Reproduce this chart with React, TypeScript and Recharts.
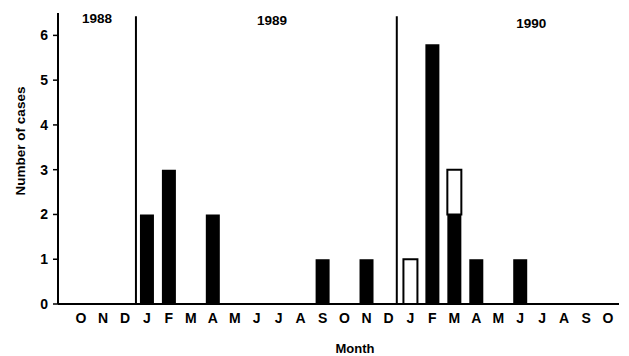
import {
  Bar,
  BarChart,
  ReferenceDot,
  ReferenceLine,
  XAxis,
  YAxis,
} from "recharts";

// Months from October 1988 through October 1990
const MONTHS = [
  "O", "N", "D",
  "J", "F", "M", "A", "M", "J", "J", "A", "S", "O", "N", "D",
  "J", "F", "M", "A", "M", "J", "J", "A", "S", "O",
];
const CLOSED = [0, 0, 0, 2, 3, 0, 2, 0, 0, 0, 0, 1, 0, 1, 0, 0, 5.8, 2, 1, 0, 1, 0, 0, 0, 0];
const OPEN = [0, 0, 0, 0, 0, 0, 0, 0, 0, 0, 0, 0, 0, 0, 0, 1, 0, 1, 0, 0, 0, 0, 0, 0, 0];
const Y_TICKS = [0, 1, 2, 3, 4, 5, 6];
const YEAR_BREAKS = [2.5, 14.38];
const YEARS = [
  { label: "1988", x: 0.73, y: 6.38 },
  { label: "1989", x: 8.7, y: 6.34 },
  { label: "1990", x: 20.5, y: 6.27 },
];

const FONT = '"Liberation Sans", Arial, Helvetica, sans-serif';

const rows = MONTHS.map((m, i) => ({ idx: i, month: m, closed: CLOSED[i], open: OPEN[i] }));
const xTicks = MONTHS.map((_, i) => i);

export default function App() {
  return (
    <div style={{ position: "absolute", left: 0, top: 0, background: "#fff" }}>
      <BarChart
        width={629}
        height={356}
        data={rows}
        margin={{ top: 13, right: 10, bottom: 0, left: 0 }}
        style={{ fontFamily: FONT }}
      >
        <XAxis
          dataKey="idx"
          type="number"
          domain={[-1.05, 24.5]}
          allowDataOverflow
          ticks={xTicks}
          interval={0}
          tickFormatter={(v: number) => MONTHS[v] ?? ""}
          tickLine={false}
          tickSize={6}
          tickMargin={3}
          height={52}
          axisLine={{ stroke: "#000", strokeWidth: 2 }}
          tick={{ fill: "#000", fontSize: 14, fontWeight: 700, fontFamily: FONT }}
          label={{
            content: () => (
              <text x={355} y={348} textAnchor="middle" dominantBaseline="central"
                fontSize={13} fontWeight={700} fill="#000" fontFamily={FONT}>
                Month
              </text>
            ),
          }}
        />
        <YAxis
          type="number"
          domain={[0, 6.5]}
          ticks={Y_TICKS}
          width={58}
          tickSize={5}
          tickMargin={5}
          axisLine={{ stroke: "#000", strokeWidth: 2 }}
          tickLine={{ stroke: "#000", strokeWidth: 1.5 }}
          tick={{ fill: "#000", fontSize: 14, fontWeight: 700, fontFamily: FONT }}
          label={{
            content: () => (
              <text x={20} y={141} transform="rotate(-90 20 141)" textAnchor="middle"
                dominantBaseline="central" fontSize={13.5} fontWeight={700} fill="#000" fontFamily={FONT}>
                Number of cases
              </text>
            ),
          }}
        />
        {YEAR_BREAKS.map((b) => (
          <ReferenceLine
            key={b}
            segment={[{ x: b, y: 0 }, { x: b, y: 6.43 }]}
            stroke="#000"
            strokeWidth={2}
          />
        ))}
        {YEARS.map((yr) => (
          <ReferenceDot
            key={yr.label}
            x={yr.x}
            y={yr.y}
            r={0.01}
            fill="none"
            stroke="none"
            label={{ value: yr.label, position: "center", fill: "#000", fontSize: 13.5, fontWeight: 700, fontFamily: FONT }}
          />
        ))}
        <Bar dataKey="closed" stackId="a" fill="#000" barSize={14} isAnimationActive={false} />
        <Bar dataKey="open" stackId="a" fill="#fff" stroke="#000" strokeWidth={2} barSize={14} isAnimationActive={false} />
      </BarChart>
    </div>
  );
}
